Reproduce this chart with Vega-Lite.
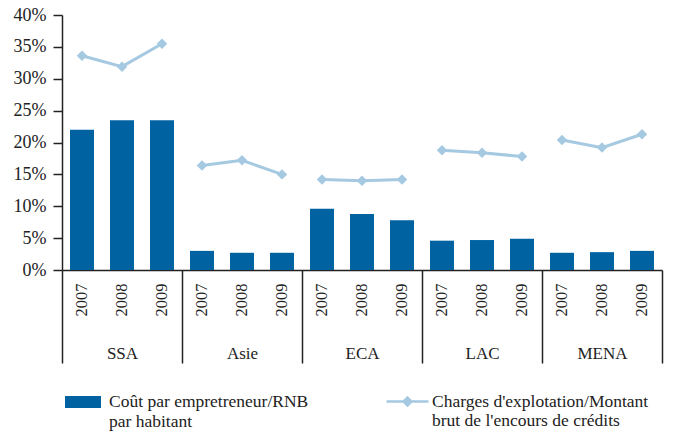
{
  "$schema": "https://vega.github.io/schema/vega-lite/v6.json",
  "width": 600,
  "height": 255,
  "autosize": {"type": "none"},
  "padding": {"left": 62, "top": 15, "right": 14, "bottom": 164},
  "background": "white",
  "data": {
    "values": [
      {"region": "SSA", "year": "2007", "key": "SSA|2007", "cout": 0.220, "charges": 0.336},
      {"region": "SSA", "year": "2008", "key": "SSA|2008", "cout": 0.235, "charges": 0.319},
      {"region": "SSA", "year": "2009", "key": "SSA|2009", "cout": 0.235, "charges": 0.355},
      {"region": "Asie", "year": "2007", "key": "Asie|2007", "cout": 0.030, "charges": 0.164},
      {"region": "Asie", "year": "2008", "key": "Asie|2008", "cout": 0.027, "charges": 0.172},
      {"region": "Asie", "year": "2009", "key": "Asie|2009", "cout": 0.027, "charges": 0.150},
      {"region": "ECA", "year": "2007", "key": "ECA|2007", "cout": 0.096, "charges": 0.142},
      {"region": "ECA", "year": "2008", "key": "ECA|2008", "cout": 0.088, "charges": 0.140},
      {"region": "ECA", "year": "2009", "key": "ECA|2009", "cout": 0.078, "charges": 0.142},
      {"region": "LAC", "year": "2007", "key": "LAC|2007", "cout": 0.046, "charges": 0.188},
      {"region": "LAC", "year": "2008", "key": "LAC|2008", "cout": 0.047, "charges": 0.184},
      {"region": "LAC", "year": "2009", "key": "LAC|2009", "cout": 0.049, "charges": 0.178},
      {"region": "MENA", "year": "2007", "key": "MENA|2007", "cout": 0.027, "charges": 0.204},
      {"region": "MENA", "year": "2008", "key": "MENA|2008", "cout": 0.028, "charges": 0.192},
      {"region": "MENA", "year": "2009", "key": "MENA|2009", "cout": 0.030, "charges": 0.213}
    ]
  },
  "layer": [
    {
      "mark": {"type": "bar"},
      "encoding": {
        "x": {
          "field": "key", "type": "nominal", "sort": null,
          "scale": {"paddingInner": 0.4, "paddingOuter": 0.2},
          "axis": {
            "orient": "bottom",
            "title": null, "ticks": false, "tickSize": 0,
            "labelExpr": "split(datum.value, '|')[1]",
            "labelAngle": -90, "labelAlign": "right", "labelBaseline": "middle",
            "labelPadding": 13, "labelFont": "Liberation Serif", "labelFontSize": 16.5, "labelOverlap": false,
            "domainColor": "#222", "domainWidth": 1.5
          }
        },
        "y": {
          "field": "cout", "type": "quantitative",
          "scale": {"domain": [0, 0.4], "nice": false},
          "axis": {
            "title": null, "format": ".0%",
            "values": [0, 0.05, 0.1, 0.15, 0.2, 0.25, 0.3, 0.35, 0.4], "tickCount": 9,
            "grid": false, "tickSize": 9, "tickColor": "#222", "tickWidth": 1.5,
            "domainColor": "#222", "domainWidth": 1.5, "labelOverlap": false,
            "labelPadding": 7, "labelFont": "Liberation Serif", "labelFontSize": 18
          }
        },
        "fill": {
          "datum": "Coût par empretreneur/RNB|par habitant",
          "scale": {"range": ["#0062a1"]},
          "legend": {
            "orient": "none", "legendX": 3, "legendY": 369, "title": null, "padding": 0,
            "symbolType": "M-1,-0.333H1V0.333H-1Z", "symbolSize": 1296, "symbolStrokeWidth": 0,
            "labelExpr": "split(datum.label, '|')", "labelFont": "Liberation Serif", "labelFontSize": 17.5, "labelLimit": 400,
            "labelOffset": 8, "labelColor": "#222"
          }
        }
      }
    },
    {
      "mark": {"type": "line", "strokeWidth": 3},
      "encoding": {
        "x": {
          "field": "key", "type": "nominal", "sort": null,
          "axis": {
            "orient": "bottom",
            "title": null, "values": ["SSA|2007"], "bandPosition": 0, "tickOffset": -8,
            "tickSize": 93, "tickColor": "#222", "tickWidth": 1.5,
            "labels": false, "domain": false
          }
        },
        "y": {
          "field": "charges", "type": "quantitative",
          "axis": {
            "title": null, "format": ".0%",
            "values": [0, 0.05, 0.1, 0.15, 0.2, 0.25, 0.3, 0.35, 0.4], "tickCount": 9,
            "grid": false, "tickSize": 9, "tickColor": "#222", "tickWidth": 1.5,
            "domainColor": "#222", "domainWidth": 1.5, "labelOverlap": false,
            "labelPadding": 7, "labelFont": "Liberation Serif", "labelFontSize": 18
          }
        },
        "detail": {"field": "region"},
        "stroke": {
          "datum": "Charges d'explotation/Montant|brut de l'encours de crédits",
          "scale": {"range": ["#a6c9e2"]},
          "legend": {
            "orient": "none", "legendX": 323, "legendY": 364, "title": null, "padding": 0,
            "symbolType": "M-1,0H1M0,-0.19L0.19,0L0,0.19L-0.19,0Z",
            "symbolSize": 1764, "symbolStrokeWidth": 2.5, "symbolFillColor": "#a6c9e2",
            "labelExpr": "split(datum.label, '|')", "labelFont": "Liberation Serif", "labelFontSize": 17.5, "labelLimit": 400,
            "labelOffset": 2, "labelColor": "#222",
            "encode": {"symbols": {"update": {"fill": {"value": "#a6c9e2"}, "stroke": {"value": "#a6c9e2"}}}}
          }
        }
      }
    },
    {
      "mark": {"type": "point", "shape": "diamond", "filled": true, "size": 110, "opacity": 1, "color": "#a6c9e2"},
      "encoding": {
        "x": {
          "field": "key", "type": "nominal", "sort": null,
          "axis": {
            "orient": "bottom",
            "title": null,
            "values": ["SSA|2009", "Asie|2009", "ECA|2009", "LAC|2009", "MENA|2009"],
            "bandPosition": 1, "tickOffset": 8, "tickSize": 93, "tickColor": "#222", "tickWidth": 1.5,
            "domain": false,
            "labelExpr": "split(datum.value, '|')[0]", "labelAngle": 0, "labelAlign": "center",
            "labelBaseline": "top", "labelOffset": -48, "labelPadding": -18,
            "labelFont": "Liberation Serif", "labelFontSize": 17, "labelOverlap": false
          }
        },
        "y": {
          "field": "charges", "type": "quantitative",
          "axis": {
            "title": null, "format": ".0%",
            "values": [0, 0.05, 0.1, 0.15, 0.2, 0.25, 0.3, 0.35, 0.4], "tickCount": 9,
            "grid": false, "tickSize": 9, "tickColor": "#222", "tickWidth": 1.5,
            "domainColor": "#222", "domainWidth": 1.5, "labelOverlap": false,
            "labelPadding": 7, "labelFont": "Liberation Serif", "labelFontSize": 18
          }
        }
      }
    }
  ],
  "resolve": {"axis": {"x": "independent"}},
  "config": {
    "font": "Liberation Serif",
    "view": {"stroke": null},
    "axis": {"labelFont": "Liberation Serif", "labelColor": "#222"},
    "legend": {"labelFont": "Liberation Serif"}
  }
}
